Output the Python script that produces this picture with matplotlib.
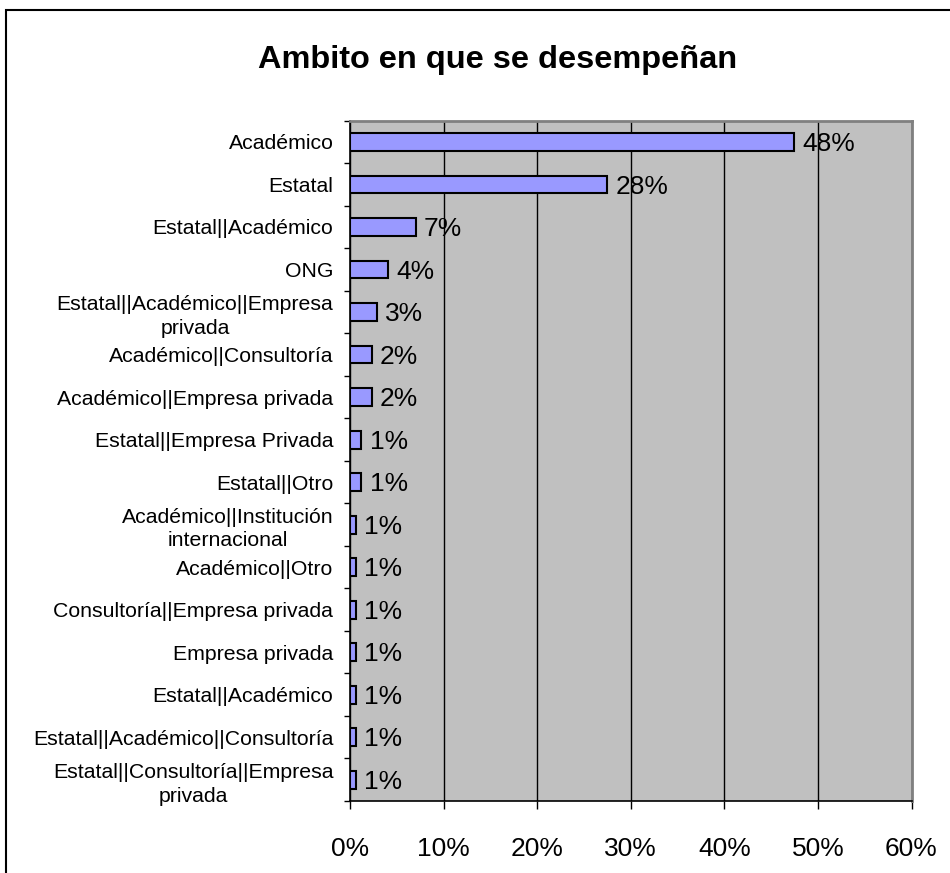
import numpy as np
import matplotlib
matplotlib.use("Agg")
import matplotlib.pyplot as plt
from matplotlib.patches import Rectangle

plt.rcParams["font.family"] = ["Liberation Sans", "DejaVu Sans"]

# data: share of respondents per sector (percent)
categories = [
    "Académico",
    "Estatal",
    "Estatal||Académico",
    "ONG",
    "Estatal||Académico||Empresa\nprivada",
    "Académico||Consultoría",
    "Académico||Empresa privada",
    "Estatal||Empresa Privada",
    "Estatal||Otro",
    "Académico||Institución\ninternacional",
    "Académico||Otro",
    "Consultoría||Empresa privada",
    "Empresa privada",
    "Estatal||Académico",
    "Estatal||Académico||Consultoría",
    "Estatal||Consultoría||Empresa\nprivada",
]
values = [47.4, 27.5, 7.0, 4.1, 2.9, 2.3, 2.3, 1.2, 1.2,
          0.6, 0.6, 0.6, 0.6, 0.6, 0.6, 0.6]
value_labels = ["48%", "28%", "7%", "4%", "3%", "2%", "2%", "1%", "1%",
                "1%", "1%", "1%", "1%", "1%", "1%", "1%"]
x_ticks = [0, 10, 20, 30, 40, 50, 60]

fig = plt.figure(figsize=(9.5, 8.73), dpi=100)
ax = fig.add_axes([350 / 950, 72 / 873, 561.5 / 950, 680.3 / 873])

# frame around the chart
fig.patches.append(Rectangle((6 / 950, -0.05), 1.0, 1 - 10 / 873 + 0.05,
                             transform=fig.transFigure, fill=False,
                             edgecolor="black", linewidth=1.5))

y = np.arange(len(categories))
ax.set_facecolor("#C0C0C0")
ax.barh(y, values, height=0.42, color="#9999FF", edgecolor="black",
        linewidth=1.5, zorder=3)

for yi, v, lab in zip(y, values, value_labels):
    ax.annotate(lab, (v, yi), xytext=(6, -1.5), textcoords="offset points",
                va="center", ha="left", fontsize=19, zorder=4)

ax.set_xlim(0, 60)
ax.set_ylim(len(categories) - 0.5, -0.5)
ax.set_xticks(x_ticks)
ax.set_xticklabels([f"{t}%" for t in x_ticks], fontsize=19)
ax.set_yticks(y)
ax.set_yticklabels(categories, fontsize=15.3, multialignment="center",
                   linespacing=1.32)
ax.set_yticks(np.arange(len(categories) + 1) - 0.5, minor=True)

ax.tick_params(axis="y", which="major", length=0, pad=12)
ax.tick_params(axis="y", which="minor", length=4, width=1, direction="out")
ax.tick_params(axis="x", length=6, width=1, direction="out", pad=20)

ax.grid(axis="x", color="black", linewidth=1, zorder=1)
ax.set_axisbelow(True)
for side in ["top", "right"]:
    ax.spines[side].set_color("#808080")
    ax.spines[side].set_linewidth(2)
for side in ["left", "bottom"]:
    ax.spines[side].set_color("black")
    ax.spines[side].set_linewidth(1.2)

fig.text(497.5 / 950, 1 - 60 / 873, "Ambito en que se desempeñan",
         ha="center", va="center", fontsize=23.4, fontweight="bold")

fig.savefig("out.png", dpi=100)
